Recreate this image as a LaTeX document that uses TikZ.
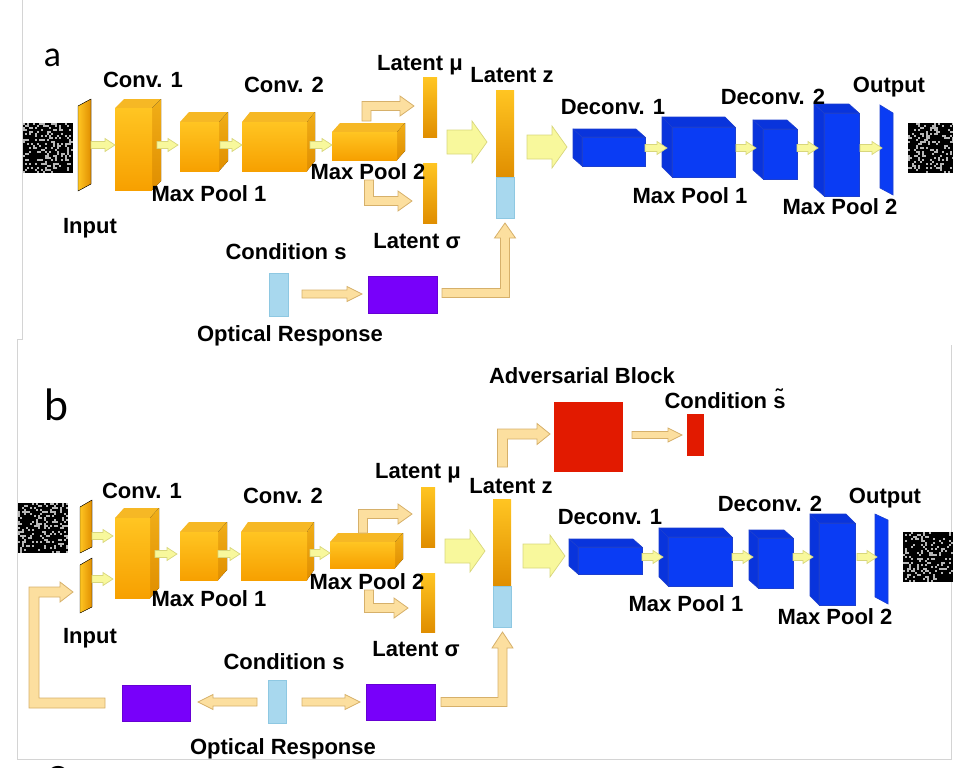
\documentclass[tikz,border=0pt]{standalone}
\usepackage{fontspec}
\setmainfont{Liberation Sans}
\newfontfamily\panelfont{Lato}
\usetikzlibrary{calc,fit}
\definecolor{oTop}{HTML}{FFC522}
\definecolor{oBot}{HTML}{F7A000}
\definecolor{oSideT}{HTML}{F0AE18}
\definecolor{oSideB}{HTML}{E08E00}
\definecolor{oLid}{HTML}{F6B825}
\definecolor{bFront}{HTML}{0A3CF4}
\definecolor{bFace}{HTML}{0934DC}
\definecolor{bLine}{HTML}{1C3FCF}
\definecolor{lBlue}{HTML}{A8D8EE}
\definecolor{lBlueL}{HTML}{8EC8E2}
\definecolor{purp}{HTML}{7800FA}
\definecolor{redb}{HTML}{E21A00}
\definecolor{yFill}{HTML}{F8F89C}
\definecolor{yLine}{HTML}{D8D67C}
\definecolor{bgFill}{HTML}{FCDF9F}
\definecolor{bgLine}{HTML}{D6B06A}
\definecolor{frameC}{HTML}{D4D4D4}
\definecolor{noiseBg}{HTML}{B8B8B8}

\tikzset{
  lbl/.style={font=\fontsize{22bp}{26bp}\selectfont\bfseries, inner sep=0pt, anchor=base},
  fitbox/.style={inner sep=0pt, outer sep=0pt},
  ofront/.style={fitbox, top color=oTop, bottom color=oBot},
  otop/.style={fill=oLid},
  oside/.style={top color=oSideT, bottom color=oSideB},
  bfront/.style={fitbox, fill=bFront, draw=bLine, line width=0.6bp},
  bface/.style={fill=bFace, draw=bLine, line width=0.6bp, line join=round},
  lbar/.style={fitbox, top color=oTop, bottom color=oSideB},
  cbar/.style={fitbox, fill=lBlue, draw=lBlueL, line width=0.6bp},
  pbox/.style={fitbox, fill=purp, draw=purp!85!black, line width=0.5bp},
  rbox/.style={fitbox, fill=redb},
  islab/.style={left color=oTop, right color=oSideB},
  oslab/.style={fill=bFront, draw=bLine, line width=0.6bp},
  sarr/.style={fill=yFill, draw=yLine, line width=0.7bp, line join=miter},
  barr/.style={fill=bgFill, draw=bgLine, line width=0.8bp, line join=miter},
  frame/.style={draw=frameC, line width=0.8bp},
}

% rectangle node from corners
\newcommand\rnode[6]{%
  \coordinate (#2-a) at (#3,#4); \coordinate (#2-b) at (#5,#6);
  \node[#1, fit=(#2-a)(#2-b)] (#2) {};}
% orange cuboid: depth to the upper right
\newcommand\ocube[7]{%
  \fill[otop] (#2,#3) -- ++(#6,#7) -- ++({#4-#2},0) -- (#4,#3) -- cycle;
  \fill[oside] (#4,#3) -- ++(#6,#7) -- ++(0,{#5-#3}) -- (#4,#5) -- cycle;
  \rnode{ofront}{#1}{#2}{#3}{#4}{#5}}
% blue cuboid: depth to the upper left
\newcommand\bcube[7]{%
  \filldraw[bface] (#2,#3) -- ++(#6,#7) -- ++({#4-#2},0) -- (#4,#3) -- cycle;
  \filldraw[bface] (#2,#3) -- ++(#6,#7) -- ++(0,{#5-#3}) -- (#2,#5) -- cycle;
  \rnode{bfront}{#1}{#2}{#3}{#4}{#5}}
% thin slanted plate
\newcommand\slab[8]{%
  \filldraw[#2] (#3,#5) -- (#4,#6) -- (#4,#7) -- (#3,#8) -- cycle;
  \coordinate (#1-a) at (#3,{min(#5,#6)}); \coordinate (#1-b) at (#4,{max(#7,#8)});
  \node[fitbox, fit=(#1-a)(#1-b)] (#1) {};}
% noise image
\newcommand\noise[3]{%
  \fill[noiseBg] (#2,#3) rectangle ++(50,50);
  \foreach \i in {0,...,24}{\foreach \j in {0,...,24}{%
    \pgfmathparse{rnd}%
    \ifdim\pgfmathresult pt<0.74pt \fill[black] ({#2+\i*2},{#3+\j*2}) rectangle ++(1.75,1.75);\fi}}
  \coordinate (#1-a) at (#2,#3); \coordinate (#1-b) at ({#2+50},{#3+50});
  \node[fitbox, fit=(#1-a)(#1-b)] (#1) {};}
% straight block arrows between nodes
\newcommand\setarr[5]{%
  \path ($(#1 |- 0,#5)+(#2,0)$) coordinate (ha-s);
  \path ($(#3 |- 0,#5)+(#4,0)$) coordinate (ha-t);}
\newcommand\drawarr[4]{%
  \draw[#1] ($(ha-s)+(0,-#2)$) -- ($(ha-t)+({-(#4)},-#2)$) -- ($(ha-t)+({-(#4)},-#3)$) -- (ha-t)
    -- ($(ha-t)+({-(#4)},#3)$) -- ($(ha-t)+({-(#4)},#2)$) -- ($(ha-s)+(0,#2)$) -- cycle;}
\newcommand\sa[5]{\setarr{#1}{#2}{#3}{#4}{#5}\drawarr{sarr}{3.5}{6.5}{10}}
\newcommand\ba[5]{\setarr{#1}{#2}{#3}{#4}{#5}\drawarr{sarr}{12}{21}{15}}
% bent block arrows: vertical then horizontal (s=-1 up, +1 down)
\newcommand\Lvh[7]{%
  \path #2 coordinate (la-t); \path #3 coordinate (la-p);
  \path (la-t |- la-p) coordinate (la-c);
  \draw[#1] ($(la-t)+(-#4,0)$) -- ($(la-c)+(-#4,{(#7)*#4})$) -- ($(la-p)+(-#6,{(#7)*#4})$)
    -- ($(la-p)+(-#6,{(#7)*#5})$) -- (la-p) -- ($(la-p)+(-#6,{-(#7)*#5})$)
    -- ($(la-p)+(-#6,{-(#7)*#4})$) -- ($(la-c)+(#4,{-(#7)*#4})$) -- ($(la-t)+(#4,0)$) -- cycle;}
% horizontal then vertical (up)
\newcommand\Lhv[6]{%
  \path #2 coordinate (la-t); \path #3 coordinate (la-p);
  \path (la-p |- la-t) coordinate (la-c);
  \draw[#1] ($(la-t)+(0,-#4)$) -- ($(la-c)+(-#4,-#4)$) -- ($(la-p)+(-#4,#6)$) -- ($(la-p)+(-#5,#6)$)
    -- (la-p) -- ($(la-p)+(#5,#6)$) -- ($(la-p)+(#4,#6)$) -- ($(la-c)+(#4,#4)$) -- ($(la-t)+(0,#4)$) -- cycle;}

\begin{document}
\begin{tikzpicture}[x=1bp, y=-1bp]
\useasboundingbox (0,0) rectangle (953,768);
\clip (0,0) rectangle (953,768);
\pgfmathsetseed{4217}

% frames
\draw[frame] (22,0) -- (22,339) -- (17,339) -- (17,759) -- (951,759) -- (951,345);

% panel labels
\node[font=\panelfont\fontsize{34bp}{36bp}\selectfont, inner sep=0pt, anchor=base west] (la) at (44,67) {a};
\node[font=\panelfont\fontsize{43bp}{46bp}\selectfont, inner sep=0pt, anchor=base west] (lb) at (44,420) {b};
\node[font=\panelfont\fontsize{43bp}{46bp}\selectfont, inner sep=0pt, anchor=base west] (lc) at (46,788) {c};

% ================= panel a =================
\noise{nAin}{23}{123}
\noise{nAout}{908}{123}
\slab{inA}{islab}{78}{91}{106}{99}{184}{191}
\ocube{c1A}{115}{108}{152}{190}{9}{-9}
\ocube{p1A}{180}{122}{219}{171}{9}{-10}
\ocube{c2A}{242}{122}{307}{171}{8}{-10}
\ocube{p2A}{332}{132}{397}{160}{8}{-9}
\rnode{lbar}{muA}{423}{78}{437}{137}
\rnode{lbar}{sgA}{423}{163}{437}{223}
\rnode{lbar}{zAo}{496}{90}{514}{177}
\rnode{cbar}{zAb}{496}{177}{514}{218}
\node[fitbox, fit=(zAo)(zAb)] (zA) {};
\rnode{cbar}{condA}{269}{273}{288}{316}
\rnode{pbox}{purA}{368}{276}{437}{313}
\bcube{d1A}{582}{137}{645}{166}{-9}{-8}
\bcube{q1A}{672}{127}{735}{177}{-10}{-10}
\bcube{d2A}{763}{129}{797}{179}{-10}{-9}
\bcube{q2A}{824}{113}{859}{196}{-10}{-9}
\slab{outA}{oslab}{880}{893}{105}{113}{195}{188}

\sa{inA.east}{0}{c1A.west}{0}{145}
\sa{c1A.east}{5}{p1A.west}{-2}{145}
\sa{p1A.east}{1}{c2A.west}{0}{145}
\sa{c2A.east}{3}{p2A.west}{0}{145}
\sa{d1A.east}{0}{q1A.west}{-5}{148}
\sa{q1A.east}{1}{d2A.west}{-7}{148}
\sa{d2A.east}{0}{q2A.west}{-6}{148}
\sa{q2A.east}{1}{outA.west}{2}{148}
\ba{muA.east}{10}{zA.west}{-9}{142}
\ba{zA.east}{13}{d1A.west}{-15}{147}
\setarr{condA.east}{14}{purA.west}{-6}{294}\drawarr{barr}{4}{7.5}{15}
\Lvh{barr}{($(p2A.north)+(2,-11)$)}{($(muA.west)+(-9,-1.5)$)}{4.5}{10}{14}{-1}
\Lvh{barr}{($(p2A.south)+(4.5,20)$)}{($(sgA.west)+(-11,8)$)}{4.5}{10}{14}{1}
\Lhv{barr}{($(purA.east)+(5,-1.5)$)}{($(zA.south)+(0,5)$)}{4.5}{10.5}{15}

\node[lbl] (tc1A) at (143,88) {Conv. 1};
\node[lbl] (tc2A) at (284,93) {Conv. 2};
\node[lbl] (tp1A) at (209,201) {Max Pool 1};
\node[lbl] (tp2A) at (368,179) {Max Pool 2};
\node[lbl] (tinA) at (90,233) {Input};
\node[lbl] (tmuA) at (420,71) {Latent μ};
\node[lbl] (tsgA) at (417,248) {Latent σ};
\node[lbl] (tcsA) at (286,259) {Condition s};
\node[lbl] (torA) at (290,341) {Optical Response};
\node[lbl] (tzA) at (512,83) {Latent z};
\node[lbl] (td1A) at (613,114) {Deconv. 1};
\node[lbl] (tq1A) at (690,203) {Max Pool 1};
\node[lbl] (td2A) at (773,104) {Deconv. 2};
\node[lbl] (toutA) at (889,93) {Output};
\node[lbl] (tq2A) at (840,214) {Max Pool 2};

% ================= panel b =================
\noise{nBin}{18}{503}
\noise{nBout}{903}{532}
\slab{inB1}{islab}{80}{92}{507}{500}{547}{553}
\slab{inB2}{islab}{80}{92}{565}{558}{607}{613}
\ocube{c1B}{115}{518}{150}{598}{9}{-10}
\ocube{p1B}{180}{532}{218}{580}{9}{-10}
\ocube{c2B}{241}{532}{307}{580}{7}{-10}
\ocube{p2B}{330}{542}{395}{568}{8}{-9}
\rnode{lbar}{muB}{421}{487}{435}{547}
\rnode{lbar}{sgB}{421}{573}{435}{632}
\rnode{lbar}{zBo}{493}{499}{511}{586}
\rnode{cbar}{zBb}{493}{586}{511}{627}
\node[fitbox, fit=(zBo)(zBb)] (zB) {};
\rnode{rbox}{redBig}{554}{402}{623}{472}
\rnode{rbox}{redSm}{687}{414}{704}{456}
\rnode{cbar}{condB}{268}{680}{286}{723}
\rnode{pbox}{purL}{122}{685}{190}{721}
\rnode{pbox}{purR}{366}{684}{435}{720}
\bcube{d1B}{578}{547}{642}{574}{-9}{-8}
\bcube{q1B}{668}{537}{732}{586}{-9}{-9}
\bcube{d2B}{758}{538}{793}{588}{-9}{-8}
\bcube{q2B}{819}{523}{855}{605}{-9}{-9}
\slab{outB}{oslab}{875}{888}{514}{520}{604}{597}

\sa{inB1.east}{0}{c1B.west}{-2}{536}
\sa{inB2.east}{0}{c1B.west}{-2}{579}
\sa{c1B.east}{5}{p1B.west}{-3}{554}
\sa{p1B.east}{0}{c2B.west}{-1}{554}
\sa{c2B.east}{3}{p2B.west}{0}{553}
\sa{d1B.east}{0}{q1B.west}{-5}{557}
\sa{q1B.east}{0}{d2B.west}{-5}{557}
\sa{d2B.east}{0}{q2B.west}{-6}{557}
\sa{q2B.east}{2}{outB.west}{2}{557}
\ba{muB.east}{10}{zB.west}{-8}{551}
\ba{zB.east}{12}{d1B.west}{-13}{556}
\setarr{condB.east}{16}{purR.west}{-6}{702}\drawarr{barr}{4}{7.5}{15}
\setarr{condB.west}{-11}{purL.east}{8}{702}\drawarr{barr}{4}{7.5}{-15}
\setarr{redBig.east}{9}{redSm.west}{-5}{435}\drawarr{barr}{3.5}{7}{14}
\Lvh{barr}{($(p2B.north)+(0.5,-9)$)}{($(muB.west)+(-9,-3)$)}{4.5}{10}{14}{-1}
\Lvh{barr}{($(p2B.south)+(6.5,22)$)}{($(sgB.west)+(-13,5.5)$)}{4.5}{10}{14}{1}
\Lhv{barr}{($(purR.east)+(6,0)$)}{($(zB.south)+(0.5,5)$)}{4.5}{10.5}{16}
\Lvh{barr}{($(zB.north)+(0.5,-32)$)}{($(redBig.west)+(-4,-3)$)}{5}{10.5}{13}{-1}
% feedback arrow from left purple box to the lower input
\coordinate (fbT) at ($(purL.west)+(-17,0)$);
\coordinate (fbP) at ($(inB2.west)+(-7,6.5)$);
\draw[barr] ($(fbT)+(0,-5)$) -- (39,698) -- ($(fbP)+(-34,5)$) -- ($(fbP)+(-13,5)$) -- ($(fbP)+(-13,10)$)
  -- (fbP) -- ($(fbP)+(-13,-10)$) -- ($(fbP)+(-13,-5)$) -- ($(fbP)+(-44,-5)$) -- (29,708) -- ($(fbT)+(0,5)$) -- cycle;

\node[lbl] (tc1B) at (142,498) {Conv. 1};
\node[lbl] (tc2B) at (283,503) {Conv. 2};
\node[lbl] (tp1B) at (209,606) {Max Pool 1};
\node[lbl] (tp2B) at (367,589) {Max Pool 2};
\node[lbl] (tinB) at (90,643) {Input};
\node[lbl] (tmuB) at (418,478) {Latent μ};
\node[lbl] (tsgB) at (416,656) {Latent σ};
\node[lbl] (tcsB) at (284,669) {Condition s};
\node[lbl] (torB) at (283,754) {Optical Response};
\node[lbl] (tzB) at (511,493) {Latent z};
\node[lbl] (tadv) at (582,383) {Adversarial Block};
\node[lbl] (tcst) at (725,408) {Condition \~{s}};
\node[lbl] (td1B) at (610,524) {Deconv. 1};
\node[lbl] (tq1B) at (686,611) {Max Pool 1};
\node[lbl] (td2B) at (770,511) {Deconv. 2};
\node[lbl] (toutB) at (885,503) {Output};
\node[lbl] (tq2B) at (835,624) {Max Pool 2};
\end{tikzpicture}
\end{document}
